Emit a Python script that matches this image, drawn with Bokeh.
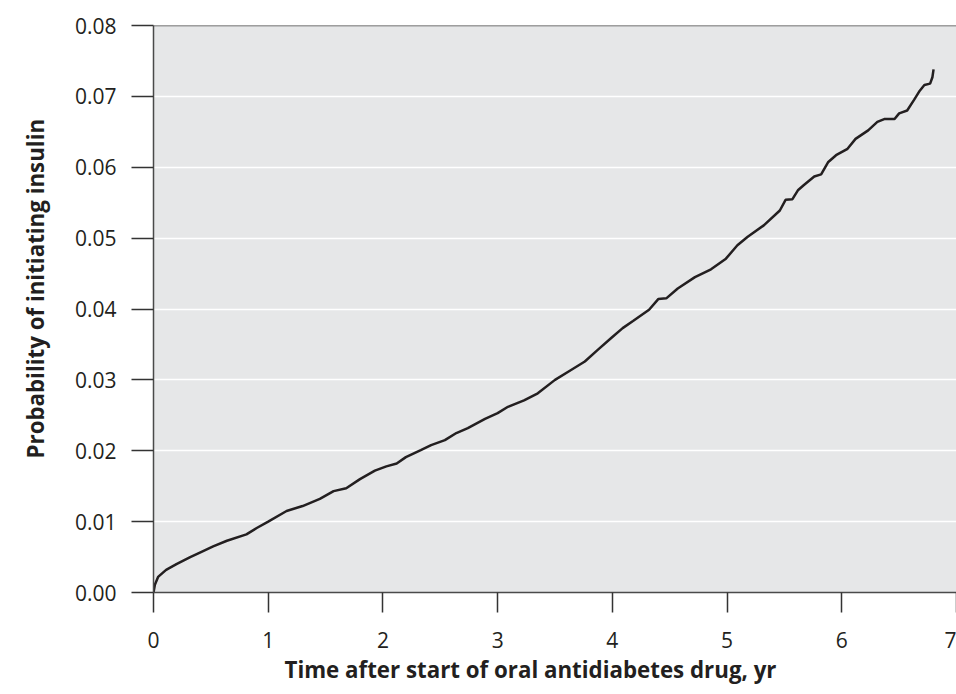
from bokeh.plotting import figure
from bokeh.models import Range1d, Span, Title, FixedTicker
from bokeh.embed import file_html
from bokeh.resources import INLINE

# Cumulative probability of initiating insulin
time_yr = [0.0, 0.012, 0.04, 0.11, 0.20, 0.32, 0.40, 0.52, 0.64, 0.81, 0.90,
           1.00, 1.16, 1.30, 1.45, 1.57, 1.68, 1.80, 1.93, 2.03, 2.12, 2.20,
           2.33, 2.42, 2.54, 2.64, 2.74, 2.89, 3.00, 3.09, 3.23, 3.35, 3.50,
           3.64, 3.76, 3.87, 3.99, 4.09, 4.18, 4.32, 4.40, 4.47, 4.57, 4.72,
           4.86, 4.99, 5.09, 5.18, 5.32, 5.46, 5.51, 5.57, 5.62, 5.67, 5.76,
           5.82, 5.88, 5.95, 6.05, 6.12, 6.23, 6.31, 6.37, 6.46, 6.50, 6.57,
           6.63, 6.68, 6.72, 6.77, 6.79, 6.80]
prob = [0.0, 0.0011, 0.0022, 0.0032, 0.0040, 0.0050, 0.0056, 0.0065, 0.0073,
        0.0082, 0.0091, 0.0100, 0.0115, 0.0122, 0.0132, 0.0143, 0.0147, 0.0160,
        0.0172, 0.0178, 0.0182, 0.0191, 0.0201, 0.0208, 0.0215, 0.0225, 0.0232,
        0.0245, 0.0253, 0.0262, 0.0271, 0.0281, 0.0300, 0.0314, 0.0326, 0.0342,
        0.0359, 0.0373, 0.0383, 0.0399, 0.0414, 0.0415, 0.0429, 0.0445, 0.0456,
        0.0471, 0.0490, 0.0502, 0.0518, 0.0539, 0.0554, 0.0555, 0.0568, 0.0575,
        0.0587, 0.0590, 0.0607, 0.0617, 0.0626, 0.0640, 0.0652, 0.0664, 0.0668,
        0.0668, 0.0676, 0.0680, 0.0695, 0.0708, 0.0716, 0.0718, 0.0727, 0.0738]

x_ticks = [0, 1, 2, 3, 4, 5, 6, 7]
y_ticks = [0.0, 0.01, 0.02, 0.03, 0.04, 0.05, 0.06, 0.07, 0.08]
y_tick_labels = ["0.00", "0.01", "0.02", "0.03", "0.04", "0.05", "0.06", "0.07", "0.08"]
x_title = "Time after start of oral antidiabetes drug, yr"
y_title = "Probability of initiating insulin"

FONT = "Open Sans"
AXIS_COL = "#4a4a4a"
TEXT_COL = "#231F20"

p = figure(width=956, height=694, output_backend="svg", toolbar_location=None,
           x_range=Range1d(0, 7), y_range=Range1d(0, 0.08),
           min_border_left=152, min_border_right=0,
           min_border_top=25, min_border_bottom=102)

p.background_fill_color = "#E6E7E8"
p.border_fill_color = "white"
p.outline_line_color = None

p.xgrid.grid_line_color = None
p.ygrid.grid_line_color = "white"
p.ygrid.grid_line_width = 1.5

p.xaxis.ticker = FixedTicker(ticks=x_ticks)
p.yaxis.ticker = FixedTicker(ticks=y_ticks)
p.yaxis.major_label_overrides = {t: l for t, l in zip(y_ticks, y_tick_labels)}

for ax in (p.xaxis, p.yaxis):
    ax.axis_line_color = AXIS_COL
    ax.axis_line_width = 1.5
    ax.major_tick_line_color = "#333333"
    ax.major_tick_line_width = 1.5
    ax.minor_tick_line_color = None
    ax.major_tick_in = 0
    ax.major_label_text_font = FONT
    ax.major_label_text_font_size = "21px"
    ax.major_label_text_color = TEXT_COL

p.yaxis.major_tick_out = 22
p.xaxis.major_tick_out = 20
p.yaxis.major_label_standoff = 15
p.xaxis.major_label_standoff = 19

p.add_layout(Span(location=0.08, dimension="width", line_color=AXIS_COL, line_width=1.5))

p.line(time_yr, prob, line_color=TEXT_COL, line_width=2.5)

p.add_layout(Title(text=x_title, align="left", offset=131, standoff=3,
                   text_font=FONT, text_font_style="bold", text_font_size="22.3px",
                   text_color=TEXT_COL), "below")
p.add_layout(Title(text=y_title, align="left", offset=134, standoff=38,
                   vertical_align="top",
                   text_font=FONT, text_font_style="bold", text_font_size="22.3px",
                   text_color=TEXT_COL), "left")

open("out.html", "w").write(file_html(p, INLINE))
